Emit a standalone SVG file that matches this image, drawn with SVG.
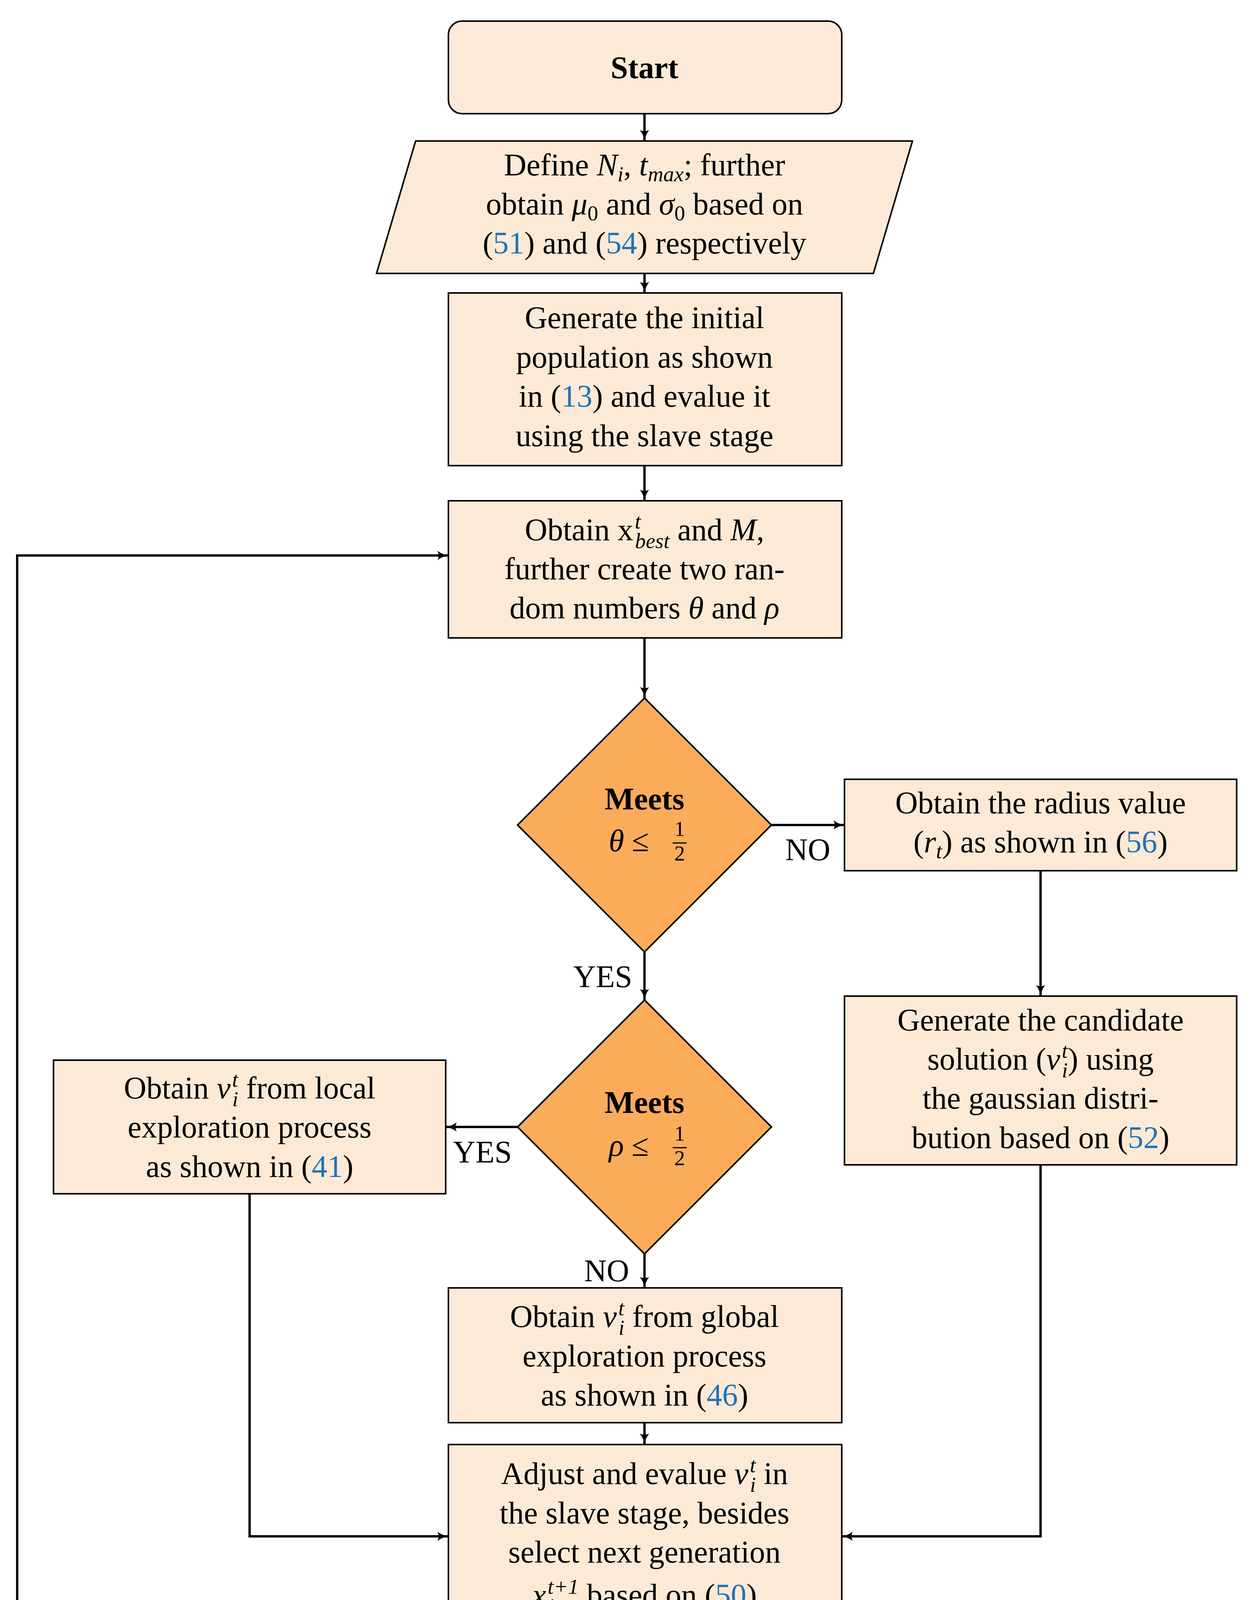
<svg xmlns="http://www.w3.org/2000/svg" width="3213" height="5210" viewBox="0 0 3213 5210">
<defs>
<marker id="ah" viewBox="0 0 30 24" refX="28" refY="12" markerWidth="30" markerHeight="24" markerUnits="userSpaceOnUse" orient="auto">
<path d="M0,0 Q12,10 30,12 Q12,14 0,24 Q6,12 0,0 Z" fill="#000"/>
</marker>
<style>
.b{fill:#FDEAD6;stroke:#000;stroke-width:4}
.d{fill:#FBAC5B;stroke:#000;stroke-width:4}
text{font-family:"Liberation Serif","DejaVu Serif",serif;font-size:80px;fill:#000;text-anchor:middle}
.bold{font-weight:bold}
.i{font-style:italic}
.s{font-size:55px}
.r{fill:#1F73B7}
.c{fill:none;stroke:#000;stroke-width:6;marker-end:url(#ah)}
</style>
</defs>
<g id="connectors">
<line class="c" x1="1650" y1="291" x2="1650" y2="361"/>
<line class="c" x1="1650" y1="700" x2="1650" y2="750"/>
<line class="c" x1="1650" y1="1192" x2="1650" y2="1282"/>
<line class="c" x1="1650" y1="1633" x2="1650" y2="1787"/>
<line class="c" x1="1975" y1="2112" x2="2162" y2="2112"/>
<line class="c" x1="1650" y1="2437" x2="1650" y2="2560"/>
<line class="c" x1="2664" y1="2229" x2="2664" y2="2550"/>
<line class="c" x1="1325" y1="2885" x2="1141" y2="2885"/>
<line class="c" x1="1650" y1="3210" x2="1650" y2="3297"/>
<line class="c" x1="1650" y1="3642" x2="1650" y2="3698"/>
<polyline class="c" points="639,3056 639,3933 1148,3933"/>
<polyline class="c" points="2664,2982 2664,3933 2155,3933"/>
<line class="c" x1="1650" y1="4167" x2="1650" y2="4222"/>
<line class="c" x1="1334" y1="4538" x2="1141" y2="4538"/>
<line class="c" x1="1650" y1="4854" x2="1650" y2="4964"/>
<polyline class="c" points="137,4550 44,4552 44,1422 1148,1422"/>
<text x="2068" y="2202">NO</text>
<text x="1543" y="2527">YES</text>
<text x="1235" y="2976">YES</text>
<text x="1553" y="3280">NO</text>
<text x="1248" y="4505">YES</text>
<text x="1553" y="4937">NO</text>
</g>
<g id="start">
<rect class="b" x="1148" y="54" width="1007" height="237" rx="35"/>
<text class="bold" x="1650" y="200">Start</text>
</g>
<g id="define">
<polygon class="b" points="1064,361 2336,361 2236,700 964,700"/>
<text x="1650" y="449">Define <tspan class="i">N</tspan><tspan class="i s" dy="15">i</tspan><tspan dy="-15">, </tspan><tspan class="i">t</tspan><tspan class="i s" dy="15">max</tspan><tspan dy="-15">; further</tspan></text>
<text x="1650" y="549">obtain <tspan class="i">μ</tspan><tspan class="s" dy="15">0</tspan><tspan dy="-15"> and </tspan><tspan class="i">σ</tspan><tspan class="s" dy="15">0</tspan><tspan dy="-15"> based on</tspan></text>
<text x="1650" y="649">(<tspan class="r">51</tspan>) and (<tspan class="r">54</tspan>) respectively</text>
</g>
<g id="init">
<rect class="b" x="1148" y="750" width="1007" height="442"/>
<text x="1650" y="840">Generate the initial</text>
<text x="1650" y="941">population as shown</text>
<text x="1650" y="1041">in (<tspan class="r">13</tspan>) and evalue it</text>
<text x="1650" y="1142">using the slave stage</text>
</g>
<g id="obtain">
<rect class="b" x="1148" y="1282" width="1007" height="351"/>
<text x="1650" y="1383">Obtain x<tspan class="i s" dx="4" dy="-30">t</tspan><tspan class="i s" dx="-15" dy="50">best</tspan><tspan dy="-20"> and </tspan><tspan class="i">M</tspan>,</text>
<text x="1650" y="1483">further create two ran-</text>
<text x="1650" y="1583">dom numbers <tspan class="i">θ</tspan> and <tspan class="i">ρ</tspan></text>
</g>
<g id="d1">
<polygon class="d" points="1650,1787 1975,2112 1650,2437 1325,2112"/>
<text class="bold" x="1650" y="2072">Meets</text>
<text x="1610" y="2179"><tspan class="i">θ</tspan> ≤</text>
<text class="s" x="1740" y="2140">1</text>
<line x1="1722" y1="2158" x2="1758" y2="2158" stroke="#000" stroke-width="3"/>
<text class="s" x="1740" y="2203">2</text>
</g>
<g id="radius">
<rect class="b" x="2162" y="1995" width="1004" height="234"/>
<text x="2664" y="2082">Obtain the radius value</text>
<text x="2664" y="2182">(<tspan class="i">r</tspan><tspan class="i s" dy="15">t</tspan><tspan dy="-15">) as shown in (</tspan><tspan class="r">56</tspan>)</text>
</g>
<g id="candidate">
<rect class="b" x="2162" y="2550" width="1004" height="432"/>
<text x="2664" y="2638">Generate the candidate</text>
<text x="2664" y="2738">solution (<tspan class="i">v</tspan><tspan class="i s" dx="4" dy="-30">t</tspan><tspan class="i s" dx="-15" dy="50">i</tspan><tspan dy="-20">) using</tspan></text>
<text x="2664" y="2838">the gaussian distri-</text>
<text x="2664" y="2939">bution based on (<tspan class="r">52</tspan>)</text>
</g>
<g id="d2">
<polygon class="d" points="1650,2560 1975,2885 1650,3210 1325,2885"/>
<text class="bold" x="1650" y="2849">Meets</text>
<text x="1610" y="2959"><tspan class="i">ρ</tspan> ≤</text>
<text class="s" x="1740" y="2920">1</text>
<line x1="1722" y1="2938" x2="1758" y2="2938" stroke="#000" stroke-width="3"/>
<text class="s" x="1740" y="2983">2</text>
</g>
<g id="local">
<rect class="b" x="137" y="2714" width="1004" height="342"/>
<text x="639" y="2812">Obtain <tspan class="i">v</tspan><tspan class="i s" dx="4" dy="-30">t</tspan><tspan class="i s" dx="-15" dy="50">i</tspan><tspan dy="-20"> from local</tspan></text>
<text x="639" y="2912">exploration process</text>
<text x="639" y="3013">as shown in (<tspan class="r">41</tspan>)</text>
</g>
<g id="global">
<rect class="b" x="1148" y="3297" width="1007" height="345"/>
<text x="1650" y="3397">Obtain <tspan class="i">v</tspan><tspan class="i s" dx="4" dy="-30">t</tspan><tspan class="i s" dx="-15" dy="50">i</tspan><tspan dy="-20"> from global</tspan></text>
<text x="1650" y="3498">exploration process</text>
<text x="1650" y="3598">as shown in (<tspan class="r">46</tspan>)</text>
</g>
<g id="adjust">
<rect class="b" x="1148" y="3698" width="1007" height="469"/>
<text x="1650" y="3799">Adjust and evalue <tspan class="i">v</tspan><tspan class="i s" dx="4" dy="-30">t</tspan><tspan class="i s" dx="-15" dy="50">i</tspan><tspan dy="-20"> in</tspan></text>
<text x="1650" y="3900">the slave stage, besides</text>
<text x="1650" y="4000">select next generation</text>
<text x="1650" y="4110"><tspan class="i">x</tspan><tspan class="i s" dx="4" dy="-30">t+1</tspan><tspan class="i s" dx="-78" dy="50">i</tspan><tspan dx="63" dy="-20"> based on (</tspan><tspan class="r">50</tspan>)</text>
</g>
<g id="d3">
<polygon class="d" points="1650,4222 1966,4538 1650,4854 1334,4538"/>
<text class="bold" x="1650" y="4512">Meets</text>
<text x="1650" y="4616"><tspan class="i">t</tspan> &lt; <tspan class="i">t</tspan><tspan class="i s" dy="15">max</tspan></text>
</g>
<g id="maket">
<rect class="b" x="137" y="4421" width="1004" height="235"/>
<text x="639" y="4565">Make <tspan class="i">t</tspan>  =  <tspan class="i">t</tspan> + 1</text>
</g>
<g id="end">
<rect class="b" x="1148" y="4964" width="1007" height="236" rx="35"/>
<text x="1650" y="5064"><tspan class="bold">End</tspan>: Report <tspan class="i">x</tspan><tspan class="i s" dx="4" dy="-30">t</tspan><tspan class="i s" dx="-15" dy="50">best</tspan><tspan dy="-20"> as</tspan></text>
<text x="1650" y="5165">an optimal solution</text>
</g>
</svg>
